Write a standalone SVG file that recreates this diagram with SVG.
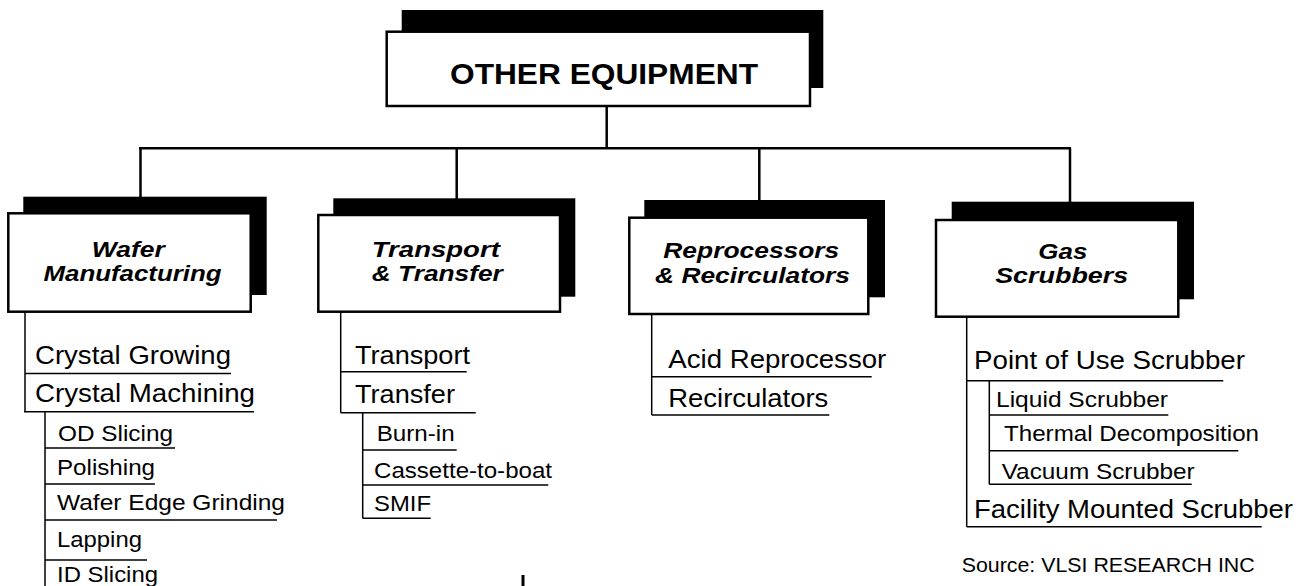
<svg xmlns="http://www.w3.org/2000/svg" width="1310" height="586" viewBox="0 0 1310 586">
<style>
.shadow{fill:#000}
.box{fill:#fff;stroke:#000;stroke-width:2.5}
.conn{stroke:#000;stroke-width:2.5;fill:none}
.ln{stroke:#000;stroke-width:1.5;fill:none}
text{font-family:"Liberation Sans",Arial,sans-serif;fill:#000}
.t{font-size:30px;font-weight:bold;text-anchor:middle}
.h{font-size:21.5px;font-weight:bold;font-style:italic;text-anchor:middle}
.l1{font-size:26px}
.l2{font-size:22px}
.src{font-size:19.5px}
</style>
<rect width="1310" height="586" fill="#fff"/>
<g id="connectors">
<line class="conn" x1="606.7" y1="106" x2="606.7" y2="148.3"/>
<line class="conn" x1="139" y1="148.3" x2="1071" y2="148.3"/>
<line class="conn" x1="140.5" y1="148.3" x2="140.5" y2="198"/>
<line class="conn" x1="456.7" y1="148.3" x2="456.7" y2="199"/>
<line class="conn" x1="759.3" y1="148.3" x2="759.3" y2="201"/>
<line class="conn" x1="1070" y1="148.3" x2="1070" y2="202"/>
</g>
<g id="other-equipment">
<rect class="shadow" x="401.7" y="10" width="421.6" height="78"/>
<rect class="box" x="386.7" y="31.7" width="423.3" height="74.3"/>
<text class="t" x="604" y="84" textLength="308" lengthAdjust="spacingAndGlyphs">OTHER EQUIPMENT</text>
</g>
<g id="wafer-manufacturing">
<rect class="shadow" x="23.3" y="196.7" width="243.4" height="98.3"/>
<rect class="box" x="8.3" y="213.3" width="242.4" height="98.4"/>
<text class="h" x="128.3" y="256.5" textLength="73" lengthAdjust="spacingAndGlyphs">Wafer</text>
<text class="h" x="132.5" y="281" textLength="178" lengthAdjust="spacingAndGlyphs">Manufacturing</text>
<polyline class="ln" points="25,311.7 25,411.7"/>
<text class="l1" x="35" y="363.5" textLength="196" lengthAdjust="spacingAndGlyphs">Crystal Growing</text>
<line class="ln" x1="25" y1="373.5" x2="231" y2="373.5"/>
<text class="l1" x="35" y="401.5" textLength="220" lengthAdjust="spacingAndGlyphs">Crystal Machining</text>
<line class="ln" x1="24" y1="411.7" x2="254" y2="411.7"/>
<line class="ln" x1="45" y1="411.7" x2="45" y2="586"/>
<text class="l2" x="58" y="441" textLength="115" lengthAdjust="spacingAndGlyphs">OD Slicing</text>
<line class="ln" x1="45" y1="448" x2="175" y2="448"/>
<text class="l2" x="57" y="475" textLength="98" lengthAdjust="spacingAndGlyphs">Polishing</text>
<line class="ln" x1="45" y1="484" x2="155" y2="484"/>
<text class="l2" x="57" y="510" textLength="228" lengthAdjust="spacingAndGlyphs">Wafer Edge Grinding</text>
<line class="ln" x1="45" y1="520" x2="277" y2="520"/>
<text class="l2" x="57" y="547" textLength="85" lengthAdjust="spacingAndGlyphs">Lapping</text>
<line class="ln" x1="45" y1="560" x2="147" y2="560"/>
<text class="l2" x="57" y="582" textLength="101" lengthAdjust="spacingAndGlyphs">ID Slicing</text>
</g>
<g id="transport-transfer">
<rect class="shadow" x="333.3" y="198.3" width="242" height="98.4"/>
<rect class="box" x="318.3" y="215" width="241.7" height="96.7"/>
<text class="h" x="435.8" y="256.5" textLength="128" lengthAdjust="spacingAndGlyphs">Transport</text>
<text class="h" x="437.3" y="281" textLength="131" lengthAdjust="spacingAndGlyphs">&amp; Transfer</text>
<line class="ln" x1="340.7" y1="311.7" x2="340.7" y2="412.7"/>
<text class="l1" x="355" y="364" textLength="115" lengthAdjust="spacingAndGlyphs">Transport</text>
<line class="ln" x1="340.7" y1="371.7" x2="466.7" y2="371.7"/>
<text class="l1" x="355" y="403" textLength="100" lengthAdjust="spacingAndGlyphs">Transfer</text>
<line class="ln" x1="340.7" y1="412.7" x2="475.7" y2="412.7"/>
<line class="ln" x1="362.7" y1="412.7" x2="362.7" y2="518.3"/>
<text class="l2" x="376.7" y="441" textLength="78" lengthAdjust="spacingAndGlyphs">Burn-in</text>
<line class="ln" x1="362.7" y1="450" x2="456.7" y2="450"/>
<text class="l2" x="374" y="477.5" textLength="178" lengthAdjust="spacingAndGlyphs">Cassette-to-boat</text>
<line class="ln" x1="362.7" y1="485" x2="548.3" y2="485"/>
<text class="l2" x="374" y="511" textLength="57" lengthAdjust="spacingAndGlyphs">SMIF</text>
<line class="ln" x1="362.7" y1="518.3" x2="430.7" y2="518.3"/>
</g>
<g id="reprocessors-recirculators">
<rect class="shadow" x="644.3" y="200" width="240.7" height="97.3"/>
<rect class="box" x="629.3" y="217.7" width="239" height="96.3"/>
<text class="h" x="751.3" y="258" textLength="176" lengthAdjust="spacingAndGlyphs">Reprocessors</text>
<text class="h" x="752.5" y="282.5" textLength="195" lengthAdjust="spacingAndGlyphs">&amp; Recirculators</text>
<line class="ln" x1="651.7" y1="314" x2="651.7" y2="415"/>
<text class="l1" x="668.3" y="368" textLength="218" lengthAdjust="spacingAndGlyphs">Acid Reprocessor</text>
<line class="ln" x1="651.7" y1="376.7" x2="871.7" y2="376.7"/>
<text class="l1" x="668.3" y="406.5" textLength="160" lengthAdjust="spacingAndGlyphs">Recirculators</text>
<line class="ln" x1="651.7" y1="415" x2="829.3" y2="415"/>
</g>
<g id="gas-scrubbers">
<rect class="shadow" x="951.7" y="201.7" width="242.3" height="97.6"/>
<rect class="box" x="936" y="220" width="242.3" height="96.7"/>
<text class="h" x="1062.8" y="258.5" textLength="49" lengthAdjust="spacingAndGlyphs">Gas</text>
<text class="h" x="1061.7" y="283" textLength="133" lengthAdjust="spacingAndGlyphs">Scrubbers</text>
<line class="ln" x1="966.7" y1="316.7" x2="966.7" y2="526.7"/>
<text class="l1" x="974" y="368.5" textLength="271" lengthAdjust="spacingAndGlyphs">Point of Use Scrubber</text>
<line class="ln" x1="966.7" y1="380.7" x2="1223.3" y2="380.7"/>
<line class="ln" x1="989.3" y1="380.7" x2="989.3" y2="484.3"/>
<text class="l2" x="996" y="407" textLength="172" lengthAdjust="spacingAndGlyphs">Liquid Scrubber</text>
<line class="ln" x1="989.3" y1="415" x2="1168.3" y2="415"/>
<text class="l2" x="1004" y="441" textLength="255" lengthAdjust="spacingAndGlyphs">Thermal Decomposition</text>
<line class="ln" x1="989.3" y1="450.7" x2="1238.3" y2="450.7"/>
<text class="l2" x="1001.7" y="479" textLength="193" lengthAdjust="spacingAndGlyphs">Vacuum Scrubber</text>
<line class="ln" x1="989.3" y1="484.3" x2="1191.7" y2="484.3"/>
<text class="l1" x="974" y="517.5" textLength="319" lengthAdjust="spacingAndGlyphs">Facility Mounted Scrubber</text>
<line class="ln" x1="966.7" y1="526.7" x2="1261.7" y2="526.7"/>
</g>
<g id="source">
<text class="src" x="961.7" y="572" textLength="293" lengthAdjust="spacingAndGlyphs">Source:  VLSI RESEARCH INC</text>
</g>
<rect x="521.5" y="575" width="3" height="11" fill="#000"/>
</svg>
